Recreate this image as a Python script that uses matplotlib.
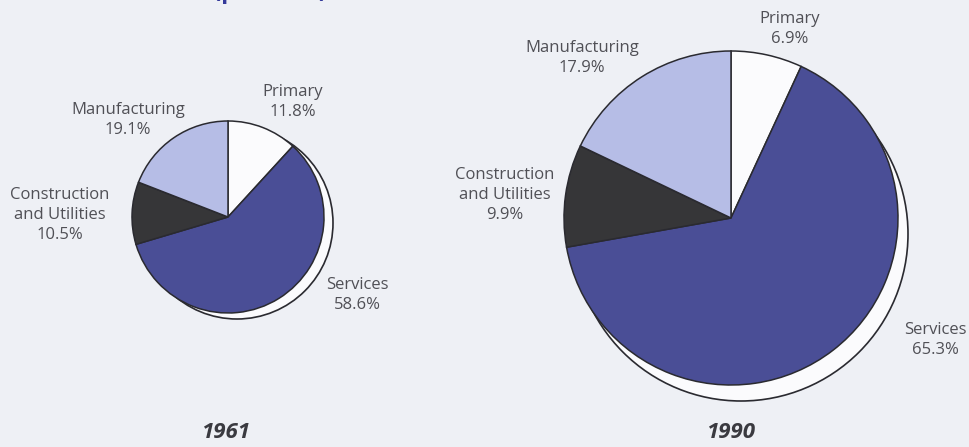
import matplotlib
matplotlib.use("Agg")
import matplotlib.pyplot as plt
from matplotlib.patches import Circle

# employment share by sector
sectors = ["Primary", "Services", "Construction\nand Utilities", "Manufacturing"]
share_1961 = [11.8, 58.6, 10.5, 19.1]
share_1990 = [6.9, 65.3, 9.9, 17.9]
years = ["1961", "1990"]

colors = ["#fbfbfd", "#4a4e96", "#363638", "#b6bde6"]
text_col = "#505056"

W, H = 969, 447
fig = plt.figure(figsize=(W / 100, H / 100), dpi=100)
fig.patch.set_facecolor("#eef0f5")
ax = fig.add_axes([0, 0, 1, 1])

def Y(py):
    return H - py

# pie centre (px), radius, shadow offset, label positions (px)
layout = [
    dict(c=(228, 217), r=96, off=(9, 6),
         lab=[(293, 102), (357, 295), (60, 215), (128, 120)],
         year=(226, 433)),
    dict(c=(731, 218), r=167, off=(10, 16),
         lab=[(790, 29), (935, 340), (505, 195), (582, 58)],
         year=(731, 433)),
]

for vals, yr, lay in zip([share_1961, share_1990], years, layout):
    cx, cy = lay["c"]
    r = lay["r"]
    dx, dy = lay["off"]
    ax.add_patch(Circle((cx + dx, Y(cy + dy)), r, facecolor="#fbfbfd",
                        edgecolor="#2a2a30", lw=1.2, zorder=1))
    ax.pie(vals, colors=colors, startangle=90, counterclock=False,
           center=(cx, Y(cy)), radius=r, frame=True,
           wedgeprops=dict(edgecolor="#2a2a30", linewidth=1.1, zorder=2))
    for name, v, (lx, ly) in zip(sectors, vals, lay["lab"]):
        ax.text(lx, Y(ly), f"{name}\n{v}%", ha="center", va="center",
                fontsize=12, family="Open Sans", color=text_col,
                linespacing=1.3, zorder=3)
    ax.text(lay["year"][0], Y(lay["year"][1]), yr, ha="center", va="center",
            fontsize=16, family="Open Sans", weight="bold", style="italic",
            color="#3a3a40")

ax.set_xlim(0, W)
ax.set_ylim(0, H)
ax.set_aspect("equal")
ax.axis("off")

# heading, mostly above the top edge
fig.text(270 / W, 1 - 4 / H, "(per cent)", ha="center", va="bottom",
         fontsize=17, family="Open Sans", weight="bold", color="#343a9a")

fig.savefig("out.png", dpi=100, facecolor=fig.get_facecolor())
